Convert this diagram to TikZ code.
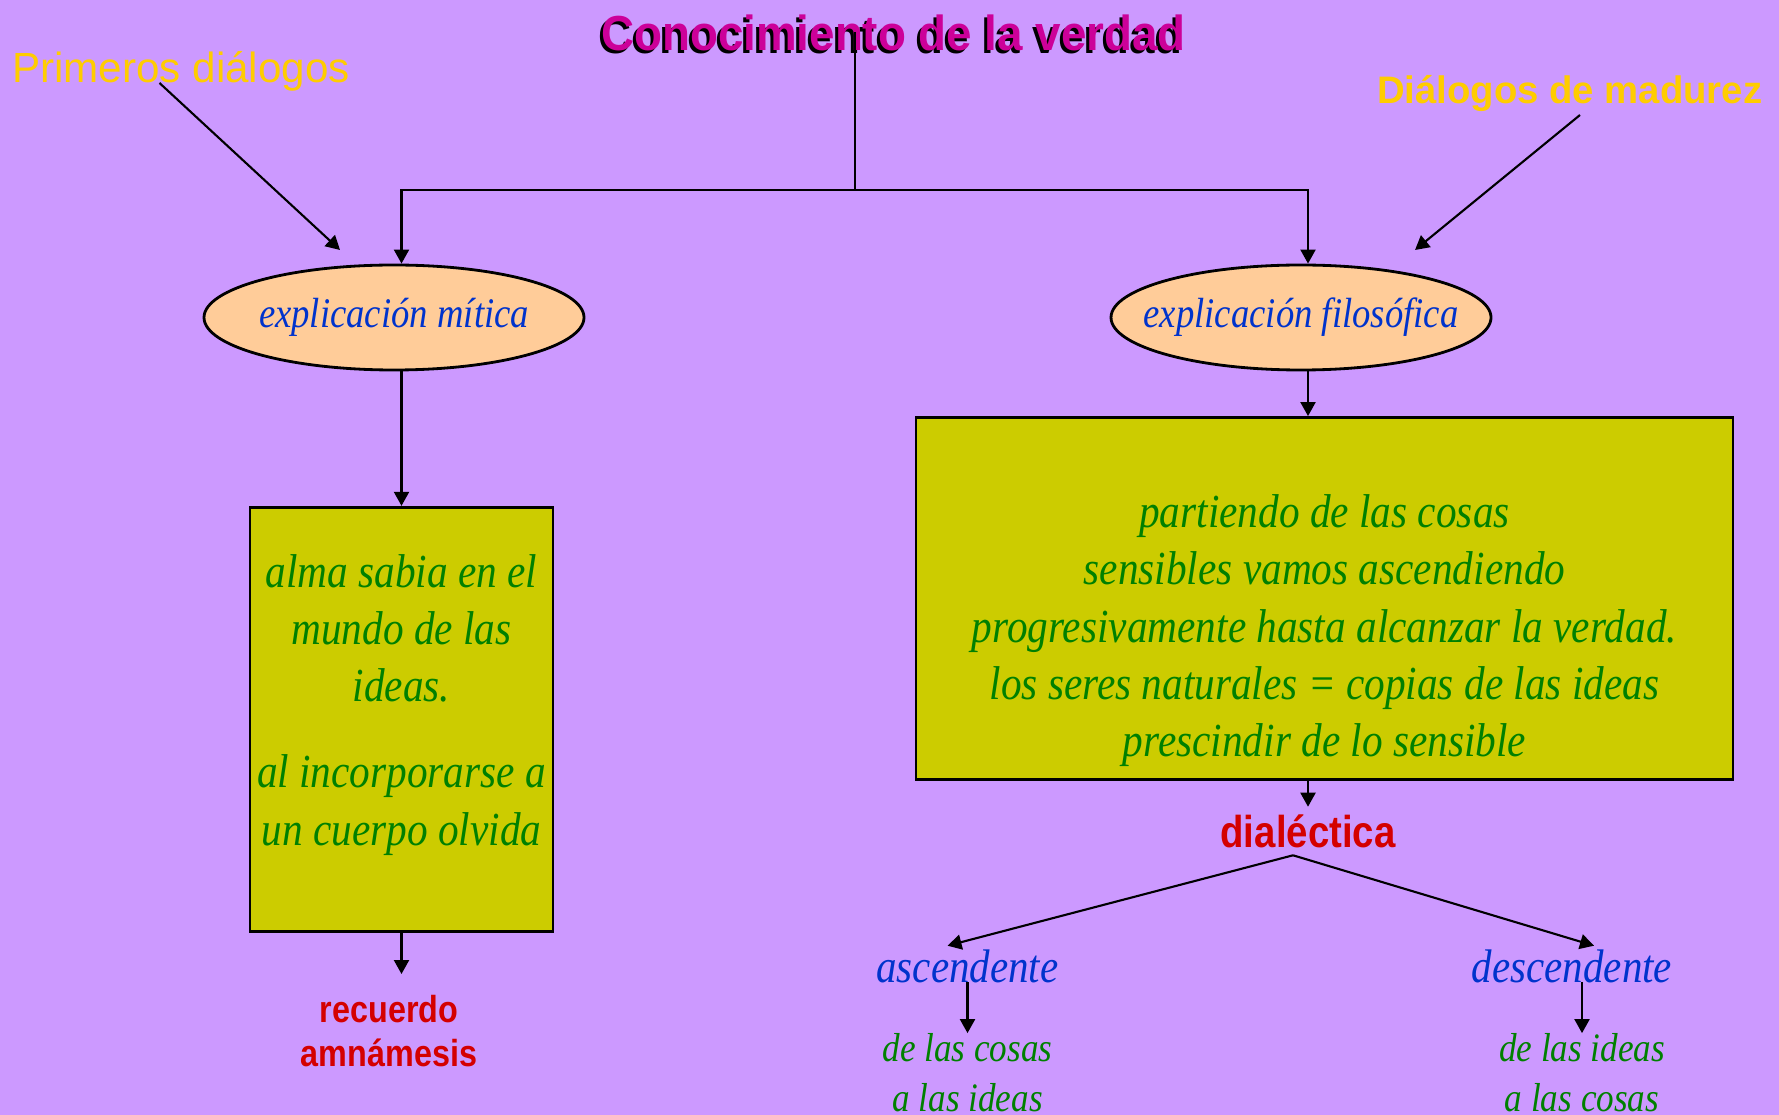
\documentclass[tikz,border=0pt]{standalone}
\usepackage{fontspec}
\setmainfont{Liberation Serif}
\setsansfont{Liberation Sans}
\newfontfamily\cursivefont{Liberation Serif}[FakeStretch=0.87]
\newfontfamily\narrowfont{Liberation Sans}[FakeStretch=0.86]
\newfontfamily\titlefont{Liberation Sans}[FakeStretch=0.93]
\usepackage{tikz}
\usetikzlibrary{shapes.geometric}
\usetikzlibrary{positioning,arrows.meta,calc}
\definecolor{lavender}{HTML}{CC99FF}
\definecolor{peach}{HTML}{FFCC99}
\definecolor{boxolive}{HTML}{CCCC00}
\definecolor{leafgreen}{HTML}{008000}
\definecolor{ideablue}{HTML}{0033CC}
\definecolor{alarmred}{HTML}{D40000}
\definecolor{titlemagenta}{HTML}{CC0099}
\definecolor{gold}{HTML}{FFCC00}
\tikzstyle{headline}=[inner sep=0pt, font=\titlefont\bfseries\fontsize{14}{16}\selectfont]
\tikzstyle{era}=[inner sep=0pt, text=gold]
\tikzstyle{thought}=[ellipse, draw=black, line width=0.8pt, fill=peach, minimum width=3.8cm, minimum height=1.05cm, inner xsep=-0.3cm, inner ysep=0pt, text=ideablue, font=\cursivefont\itshape\fontsize{12}{14}\selectfont]
\tikzstyle{notebox}=[rectangle, draw=black, line width=0.8pt, fill=boxolive, text=leafgreen, align=center, inner xsep=0.05cm, font=\cursivefont\itshape\fontsize{13.5}{16.3}\selectfont]
\tikzstyle{outcome}=[text=alarmred, align=center, inner xsep=0pt]
\tikzstyle{stage}=[text=ideablue, inner xsep=0pt, inner ysep=0.03cm, font=\cursivefont\itshape\fontsize{13.4}{15}\selectfont]
\tikzstyle{route}=[text=leafgreen, align=center, inner sep=0pt, font=\cursivefont\itshape\fontsize{11.5}{14.2}\selectfont]
\tikzstyle{myarrow}=[-{Triangle[length=0.14cm,width=0.15cm]}, line width=0.6pt]
\tikzstyle{myline}=[line width=0.6pt]

\begin{document}
\begin{tikzpicture}[node distance=2cm]
        \fill[lavender] (0,0) rectangle (17.79,-11.15);
        \useasboundingbox (0,0) rectangle (17.79,-11.15);

        % Title
        \node (title-shadow) [headline, text=black] at (8.905,-0.355) {Conocimiento de la verdad};
        \node (title) [headline, text=titlemagenta] at (8.935,-0.325) {Conocimiento de la verdad};
        \coordinate (split) at (8.55,-1.90);

        % Periods
        \node (primeros) [era, anchor=base west, font=\sffamily\fontsize{12}{14}\selectfont] at (0.115,-0.83) {Primeros diálogos};
        \node (madurez) [era, anchor=base east, font=\sffamily\bfseries\fontsize{10.9}{13}\selectfont] at (17.63,-1.04) {Diálogos de madurez};
        \coordinate (mitica-hint) at (3.40,-2.50);
        \coordinate (filosofica-hint) at (14.15,-2.50);

        % Explanations
        \node (mitica) [thought] at (3.94,-3.175) {explicación mítica};
        \node (filosofica) [thought, right of=mitica, node distance=9.07cm] {explicación filosófica};

        \node (alma) [notebox, below of=mitica, node distance=4.02cm, xshift=0.075cm, minimum width=3.03cm, minimum height=4.245cm]
                {alma sabia en el\\mundo de las\\ideas.\\[0.285cm]al incorporarse a\\un cuerpo olvida\\[-0.35cm]\strut};
        \node (partiendo) [notebox, below of=filosofica, node distance=2.81cm, xshift=0.235cm, minimum width=8.17cm, minimum height=3.62cm]
                {\strut\\partiendo de las cosas\\sensibles vamos ascendiendo\\progresivamente hasta alcanzar la verdad.\\los seres naturales = copias de las ideas\\prescindir de lo sensible};

        % Results
        \node (recuerdo) [outcome, below of=alma, node distance=3.12cm, xshift=-0.125cm, inner ysep=0.21cm, font=\narrowfont\bfseries\fontsize{10.7}{12.5}\selectfont] {recuerdo\\amnámesis};
        \node (dialectica) [outcome, below of=partiendo, node distance=2.325cm, xshift=-0.165cm, inner ysep=0.07cm, font=\narrowfont\bfseries\fontsize{12.7}{15}\selectfont] {dialéctica};

        \node (ascendente) [stage, below of=dialectica, node distance=1.35cm, xshift=-3.405cm] {ascendente};
        \node (descendente) [stage, right of=ascendente, node distance=6.045cm] {descendente};
        \node (cosas) [route, below of=ascendente, node distance=1.07cm] {de las cosas\\a las ideas};
        \node (ideas) [route, below of=descendente, node distance=1.07cm, xshift=0.1cm] {de las ideas\\a las cosas};

        \draw[myline] (split |- title.center) -- (split);
        \draw[myarrow] (split) -| (mitica.north -| alma.north);
        \draw[myarrow] (split) -| (filosofica.north -| dialectica.north);
        \draw[myarrow] ([xshift=1.48cm]primeros.base west) -- (mitica-hint);
        \draw[myarrow] ([xshift=-1.83cm,yshift=-0.11cm]madurez.base east) -- (filosofica-hint);

        \draw[myarrow] (mitica.south -| alma.north) -- (alma.north);
        \draw[myarrow] (alma.south) -- (alma.south |- recuerdo.north);
        \draw[myarrow] (filosofica.south -| dialectica.north) -- (partiendo.north -| dialectica.north);
        \draw[myarrow] (partiendo.south -| dialectica.north) -- (dialectica.north);

        \draw[myarrow] ([xshift=-0.15cm]dialectica.south) -- ([xshift=-0.2cm]ascendente.north);
        \draw[myarrow] ([xshift=-0.15cm]dialectica.south) -- ([xshift=0.22cm]descendente.north);
        \draw[myarrow] (ascendente.base -| cosas.north) -- (cosas.north);
        \draw[myarrow] (descendente.base -| ideas.north) -- (ideas.north);
\end{tikzpicture}
\end{document}
